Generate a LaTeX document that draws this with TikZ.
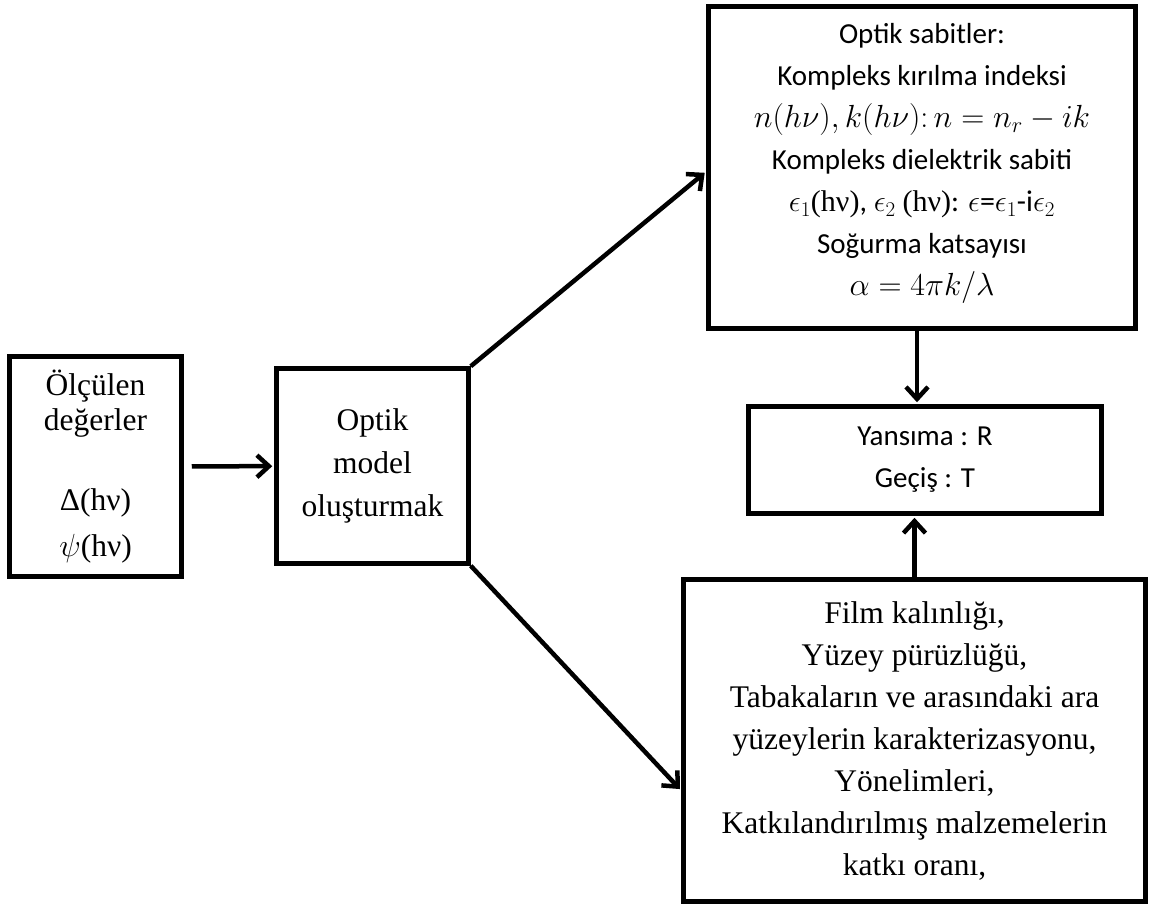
\documentclass[tikz,border=0pt]{standalone}
\usepackage{fix-cm}
\usepackage{fontspec}
\setmainfont{Liberation Serif}
\newfontfamily\calibri{Carlito}
\usetikzlibrary{arrows.meta,positioning}
\newcommand{\mathbig}{\fontsize{32}{42}\selectfont}
\tikzset{
  box/.style={draw, line width=4.5pt, align=center, inner sep=0pt, font=\fontsize{31.5}{35}\selectfont},
  cbox/.style={box, font=\calibri\fontsize{29}{42}\selectfont},
  ctext/.style={align=center, inner sep=0pt, font=\calibri\fontsize{29}{42}\selectfont},
  arr/.style={line width=4.5pt, -{Straight Barb[length=12pt,width=22pt]}}
}
\begin{document}
\begin{tikzpicture}[x=1pt,y=-1pt]
\useasboundingbox (0,0) rectangle (1152,906);

\node[box, minimum width=172pt, minimum height=220pt] (ols) at (95.5,466.5)
  {Ölçülen\\değerler\\[45pt]Δ(hν)\\[11pt]{\mathbig$\psi$}(hν)};
\node[box, minimum width=192pt, minimum height=195pt, font=\fontsize{31.5}{43}\selectfont] (model) at (372.5,466)
  {Optik\\model\\oluşturmak};

\node[cbox, minimum width=427pt, minimum height=322pt] (sabit) at (922,167.5) {};
\node[ctext] (sabittxt) at ([yshift=4pt]sabit.center)
  {Optik sabitler:\\
   Kompleks kırılma indeksi\\
   {\mathbig$n(h\nu),k(h\nu)\colon n=n_r-ik$}\\
   Kompleks dielektrik sabiti\\
   {\fontsize{30}{42}\selectfont$\epsilon_1${\rmfamily(hν)}, $\epsilon_2$ {\rmfamily(hν)}: $\epsilon$=$\epsilon_1$-i$\epsilon_2$}\\
   Soğurma katsayısı\\
   {\mathbig$\alpha=4\pi k/\lambda$}};
\node[cbox, minimum width=353pt, minimum height=107pt] (yansima) at (925,460)
  {Yansıma : R\\Geçiş : T};
\node[box, minimum width=462pt, minimum height=322pt, font=\fontsize{31.5}{42}\selectfont] (film) at (914.5,740.5)
  {Film kalınlığı,\\
   Yüzey pürüzlüğü,\\
   Tabakaların ve arasındaki ara\\
   yüzeylerin karakterizasyonu,\\
   Yönelimleri,\\
   Katkılandırılmış malzemelerin\\
   katkı oranı,};

% connectors
\draw[arr, shorten <=8pt, shorten >=2pt] (ols) -- (model);
\draw[arr, shorten >=2pt] (model.north east) -- ([yshift=-4pt]sabit.west);
\draw[arr, shorten >=2pt] (model.south east) -- ([yshift=-50pt]film.west);
\draw[arr, shorten >=2pt] ([xshift=-5pt]sabit.south) -- ([xshift=-5pt]sabit.south |- yansima.north);
\draw[arr, shorten >=2pt] (film.north) -- (film.north |- yansima.south);

\end{tikzpicture}
\end{document}
